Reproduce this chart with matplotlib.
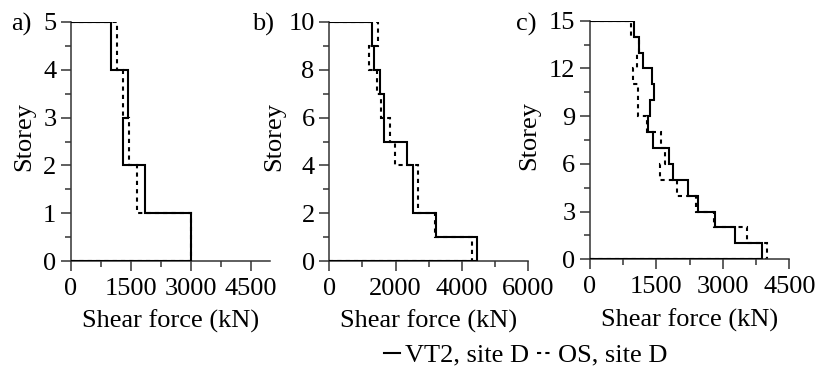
import numpy as np
import matplotlib
matplotlib.use("Agg")
import matplotlib.pyplot as plt
from matplotlib.lines import Line2D
from matplotlib.ticker import MultipleLocator

plt.rcParams['font.family'] = ['Liberation Serif', 'DejaVu Serif']

# Storey shear (kN), storey 1 (bottom) .. top storey
a_vt2 = [3000, 1862, 1295, 1436, 1000]
a_os = [2995, 1662, 1461, 1295, 1145]

b_vt2 = [4463, 3207, 2513, 2513, 2332, 1659, 1659, 1528, 1348, 1278]
b_os = [4302, 3187, 2664, 2664, 1981, 1830, 1558, 1448, 1197, 1479]

c_vt2 = [3890, 3273, 2815, 2431, 2219, 1881, 1783, 1422, 1317, 1354, 1437, 1407, 1189, 1114, 1001]
c_os = [3988, 3537, 2800, 2385, 1964, 1580, 1693, 1595, 1279, 1091, 1091, 978, 1068, 1100, 925]

panel_labels = ["a)", "b)", "c)"]
xlims = [5000, 6000, 4500]
xmajor = [1500, 2000, 1500]
ymajor = [1, 2, 3]
xlabel = "Shear force (kN)"
ylabel = "Storey"
legend_labels = ["VT2, site D", "OS, site D"]

W, H = 817, 371
fig = plt.figure(figsize=(W / 100, H / 100), dpi=100)

rects = [
    [71 / W, 110 / H, 199.5 / W, 239 / H],
    [329.3 / W, 110 / H, 199 / W, 239 / H],
    [590 / W, 111.7 / H, 199.3 / W, 238.6 / H],
]
label_x = [11 / W, 252 / W, 516 / W]
ylabel_x = [-0.18, -0.22, -0.25]

data = [(a_vt2, a_os), (b_vt2, b_os), (c_vt2, c_os)]
fs = 19
for i, (vt2, os_) in enumerate(data):
    ax = fig.add_axes(rects[i])
    n = len(vt2)
    edges = np.arange(n + 1)
    ax.stairs(vt2, edges, orientation='horizontal', baseline=0,
              color='black', lw=1.5, zorder=3)
    ax.stairs(os_, edges, orientation='horizontal', baseline=0,
              color='black', lw=1.5, linestyle=(0, (2, 2)), zorder=2)
    ax.set_xlim(0, xlims[i])
    ax.set_ylim(0, n)
    ax.xaxis.set_major_locator(MultipleLocator(xmajor[i]))
    ax.xaxis.set_minor_locator(MultipleLocator(xmajor[i] / 2))
    ax.yaxis.set_major_locator(MultipleLocator(ymajor[i]))
    ax.yaxis.set_minor_locator(MultipleLocator(ymajor[i] / 2))
    for s in ['top', 'right']:
        ax.spines[s].set_visible(False)
    for s in ['left', 'bottom']:
        ax.spines[s].set_linewidth(1.1)
        ax.spines[s].set_color('#333333')
    ax.tick_params(which='major', direction='out', length=7.5, width=1.1,
                   labelsize=fs, pad=3, color='#333333')
    ax.tick_params(axis='x', which='major', pad=4.5)
    ax.tick_params(which='minor', direction='out', length=4.5, width=1.1,
                   color='#333333')
    ax.set_xlabel(xlabel, fontsize=fs)
    ax.xaxis.set_label_coords(0.5, -0.205)
    ax.set_ylabel(ylabel, fontsize=fs)
    ax.yaxis.set_label_coords(ylabel_x[i], 0.52)
    ax.set_facecolor('none')
    fig.text(label_x[i], 1 - 24 / H, panel_labels[i], fontsize=fs,
             ha='left', va='center')

handles = [Line2D([], [], color='black', lw=1.5),
           Line2D([], [], color='black', lw=1.5, linestyle=(0, (2, 2)))]
fig.legend(handles, legend_labels, loc='center', bbox_to_anchor=(526 / W, 1 - 355 / H),
           ncol=2, frameon=False, fontsize=fs, handlelength=0.6,
           handletextpad=0.2, columnspacing=0.3, borderpad=0, borderaxespad=0)

fig.savefig("out.png", dpi=100)
